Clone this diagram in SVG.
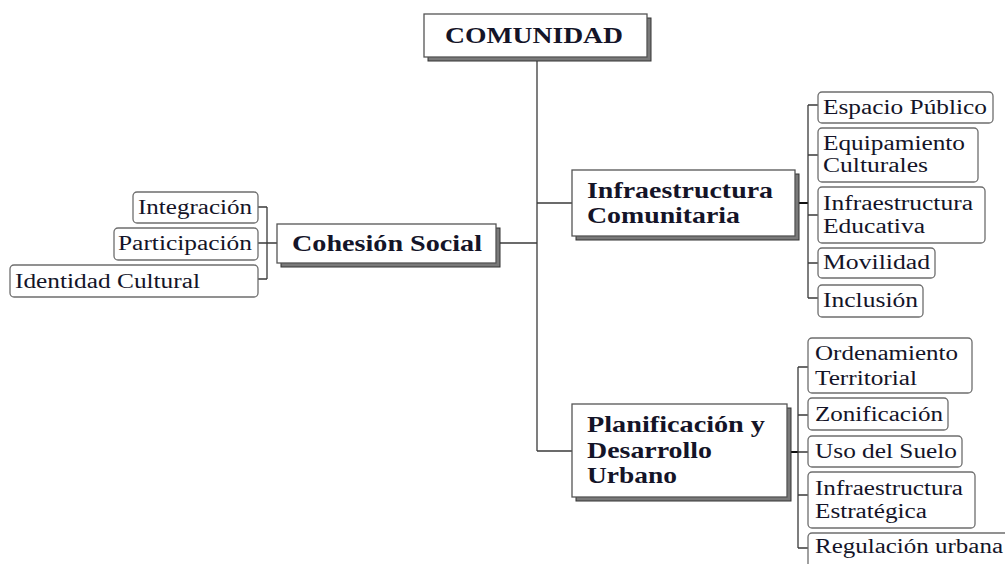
<svg xmlns="http://www.w3.org/2000/svg" width="1005" height="564" viewBox="0 0 1005 564">
<style>
.bg{fill:#ffffff}
.main{fill:#ffffff;stroke:#555;stroke-width:1.3}
.shadow{fill:#7a7a7a;stroke:#333;stroke-width:1}
.leaf{fill:#ffffff;stroke:#6e6e6e;stroke-width:1.3}
.bt{font-family:"Liberation Serif","Times New Roman",serif;font-weight:bold;font-size:23px;fill:#141428}
.lt{font-family:"Liberation Serif","Times New Roman",serif;font-size:20px;fill:#141428}
.conn{fill:none;stroke:#3a3a3a;stroke-width:1.3}
.stub{fill:none;stroke:#111;stroke-width:2}
</style>
<rect class="bg" x="0" y="0" width="1005" height="564"/>

<g id="connectors">
  <path class="conn" d="M537 61 V451"/>
  <path class="conn" d="M500 243 H537"/>
  <path class="conn" d="M537 203 H572"/>
  <path class="conn" d="M537 451 H572"/>
  <path class="conn" d="M277 243 H267 M267 207 V279 M258 207 H267 M258 243 H267 M258 279 H267"/>
  <path class="stub" d="M798 203 H808"/>
  <path class="conn" d="M808 105 V298 M808 105 H818 M808 155 H818 M808 215 H818 M808 263 H818 M808 298 H818"/>
  <path class="stub" d="M790 452 H798"/>
  <path class="conn" d="M798 367 V548 M798 367 H808 M798 415 H808 M798 452 H808 M798 495 H808 M798 548 H808"/>
</g>

<g id="comunidad">
  <rect class="shadow" x="428" y="18" width="223" height="43"/>
  <rect class="main" x="424" y="14" width="223" height="43"/>
  <text class="bt" x="445" y="43" font-size="24" textLength="178" lengthAdjust="spacingAndGlyphs">COMUNIDAD</text>
</g>

<g id="cohesion-social">
  <rect class="shadow" x="281" y="228" width="219" height="39"/>
  <rect class="main" x="277" y="224" width="219" height="39"/>
  <text class="bt" x="292" y="251" textLength="190" lengthAdjust="spacingAndGlyphs">Cohesión Social</text>
</g>

<g id="infraestructura-comunitaria">
  <rect class="shadow" x="576" y="174" width="223" height="66"/>
  <rect class="main" x="572" y="170" width="223" height="66"/>
  <text class="bt" x="587" y="198" textLength="186" lengthAdjust="spacingAndGlyphs">Infraestructura</text>
  <text class="bt" x="587" y="223" textLength="153" lengthAdjust="spacingAndGlyphs">Comunitaria</text>
</g>

<g id="planificacion">
  <rect class="shadow" x="576" y="408" width="215" height="93"/>
  <rect class="main" x="572" y="404" width="215" height="93"/>
  <text class="bt" x="587" y="432" textLength="178" lengthAdjust="spacingAndGlyphs">Planificación y</text>
  <text class="bt" x="587" y="458" textLength="125" lengthAdjust="spacingAndGlyphs">Desarrollo</text>
  <text class="bt" x="587" y="483" textLength="90" lengthAdjust="spacingAndGlyphs">Urbano</text>
</g>

<g id="integracion">
  <rect class="leaf" x="133" y="192" width="125" height="31" rx="4"/>
  <text class="lt" x="138" y="214" textLength="114" lengthAdjust="spacingAndGlyphs">Integración</text>
</g>
<g id="participacion">
  <rect class="leaf" x="114" y="228" width="144" height="32" rx="4"/>
  <text class="lt" x="118" y="250" textLength="134" lengthAdjust="spacingAndGlyphs">Participación</text>
</g>
<g id="identidad-cultural">
  <rect class="leaf" x="10" y="265" width="248" height="32" rx="4"/>
  <text class="lt" x="15" y="288" textLength="185" lengthAdjust="spacingAndGlyphs">Identidad Cultural</text>
</g>

<g id="espacio-publico">
  <rect class="leaf" x="818" y="92" width="175" height="31" rx="4"/>
  <text class="lt" x="823" y="114" textLength="164" lengthAdjust="spacingAndGlyphs">Espacio Público</text>
</g>
<g id="equipamiento">
  <rect class="leaf" x="818" y="128" width="160" height="54" rx="4"/>
  <text class="lt" x="823" y="150" textLength="142" lengthAdjust="spacingAndGlyphs">Equipamiento</text>
  <text class="lt" x="823" y="172" textLength="105" lengthAdjust="spacingAndGlyphs">Culturales</text>
</g>
<g id="infraestructura-educativa">
  <rect class="leaf" x="818" y="187" width="167" height="56" rx="4"/>
  <text class="lt" x="823" y="210" textLength="150" lengthAdjust="spacingAndGlyphs">Infraestructura</text>
  <text class="lt" x="823" y="233" textLength="102" lengthAdjust="spacingAndGlyphs">Educativa</text>
</g>
<g id="movilidad">
  <rect class="leaf" x="818" y="248" width="117" height="30" rx="4"/>
  <text class="lt" x="823" y="269" textLength="107" lengthAdjust="spacingAndGlyphs">Movilidad</text>
</g>
<g id="inclusion">
  <rect class="leaf" x="818" y="285" width="105" height="32" rx="4"/>
  <text class="lt" x="823" y="307" textLength="95" lengthAdjust="spacingAndGlyphs">Inclusión</text>
</g>

<g id="ordenamiento">
  <rect class="leaf" x="808" y="338" width="164" height="55" rx="4"/>
  <text class="lt" x="815" y="360" textLength="143" lengthAdjust="spacingAndGlyphs">Ordenamiento</text>
  <text class="lt" x="815" y="385" textLength="102" lengthAdjust="spacingAndGlyphs">Territorial</text>
</g>
<g id="zonificacion">
  <rect class="leaf" x="808" y="398" width="140" height="32" rx="4"/>
  <text class="lt" x="815" y="421" textLength="128" lengthAdjust="spacingAndGlyphs">Zonificación</text>
</g>
<g id="uso-del-suelo">
  <rect class="leaf" x="808" y="436" width="154" height="31" rx="4"/>
  <text class="lt" x="815" y="458" textLength="142" lengthAdjust="spacingAndGlyphs">Uso del Suelo</text>
</g>
<g id="infraestructura-estrategica">
  <rect class="leaf" x="808" y="472" width="167" height="56" rx="4"/>
  <text class="lt" x="815" y="495" textLength="148" lengthAdjust="spacingAndGlyphs">Infraestructura</text>
  <text class="lt" x="815" y="518" textLength="112" lengthAdjust="spacingAndGlyphs">Estratégica</text>
</g>
<g id="regulacion-urbana">
  <rect class="leaf" x="808" y="533" width="205" height="36" rx="4"/>
  <text class="lt" x="815" y="553" textLength="188" lengthAdjust="spacingAndGlyphs">Regulación urbana</text>
</g>
</svg>
